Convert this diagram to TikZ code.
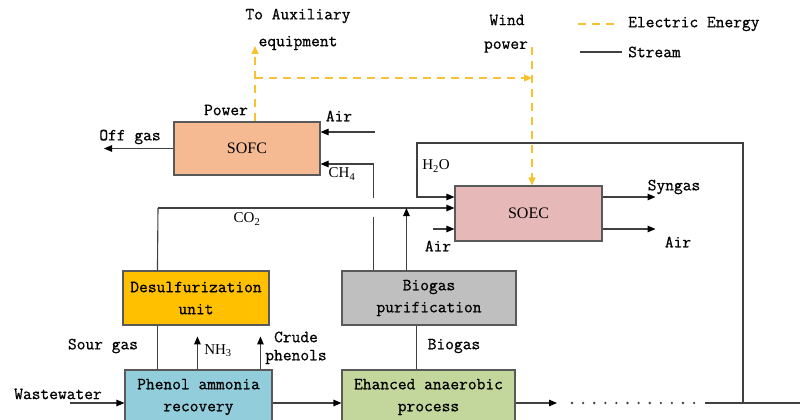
\documentclass[tikz,border=0pt]{standalone}
\usepackage{fontspec}
\newfontfamily\tnr{Liberation Serif}
\newfontfamily\mono{Latin Modern Mono}[FakeBold=0.8]
\usetikzlibrary{arrows.meta}
\definecolor{sofcc}{HTML}{F6BA92}
\definecolor{soecc}{HTML}{E6B8B7}
\definecolor{desc}{HTML}{FFC000}
\definecolor{bpc}{HTML}{BFBFBF}
\definecolor{phc}{HTML}{92CDDC}
\definecolor{grc}{HTML}{C3D69B}
\definecolor{elecc}{HTML}{F7C232}
\definecolor{linec}{HTML}{404040}
\definecolor{boxline}{HTML}{595959}
\begin{document}
\begin{tikzpicture}[x=1pt,y=-1pt,
  box/.style={draw=boxline, line width=1.1pt, inner sep=0pt, align=center, font=\mono\fontsize{17}{22}\selectfont},
  lbl/.style={inner sep=0pt, align=center, font=\mono\fontsize{17}{21}\selectfont},
  slbl/.style={inner sep=0pt, font=\tnr\fontsize{15}{18}\selectfont},
  ln/.style={draw=linec, line width=1.1pt},
  arr/.style={ln, -{Triangle[length=8pt,width=6.5pt,color=black]}},
  elec/.style={draw=elecc, line width=1.3pt, dash pattern=on 8pt off 6pt},
  earr/.style={elec, -{Triangle[length=8pt,width=7pt,color=elecc]}},
]
\useasboundingbox (0,0) rectangle (800,420);
\clip (0,0) rectangle (800,420);

% boxes
\node[box, fill=sofcc, minimum width=146pt, minimum height=53pt] (sofc) at (247,148.5) {\tnr\fontsize{16}{18}\selectfont SOFC};
\node[box, fill=soecc, minimum width=147pt, minimum height=55pt] (soec) at (528.5,213.5) {\tnr\fontsize{16}{18}\selectfont SOEC};
\node[box, fill=desc, minimum width=146pt, minimum height=54pt] (desulf) at (196,298) {Desulfurization\\unit};
\node[box, fill=bpc, minimum width=174pt, minimum height=54pt] (bpur) at (429,298) {Biogas\\purification};
\node[box, fill=phc, minimum width=147pt, minimum height=54pt] (phenol) at (198.5,397) {Phenol ammonia\\recovery};
\node[box, fill=grc, minimum width=173pt, minimum height=54pt] (green) at (428.5,397) {Ehanced anaerobic\\process};

% coordinates
\coordinate (offgasEnd) at (104,148.5);
\coordinate (airS) at (375,132);
\coordinate (ch4Bot) at ([xshift=32pt]bpur.north west);
\coordinate (ch4In) at ([yshift=-15.5pt]sofc.east);
\coordinate (co2c) at (158,208);
\coordinate (co2Bot) at ([xshift=35pt]desulf.north west);
\coordinate (bgTop) at ([xshift=65pt]bpur.north west);
\coordinate (airE) at (433,229);
\coordinate (h2oIn) at ([yshift=16.5pt]soec.west);
\coordinate (loopBot) at (743,403);
\coordinate (dotsStart) at (557,403);
\coordinate (lineR) at (705,403);
\coordinate (rEdge) at (800,403);
\coordinate (ww) at (70,403);
\coordinate (pw) at ([xshift=8pt]sofc.north);
\coordinate (aux) at (255,46);
\coordinate (jn) at (255,78);
\coordinate (wp) at (532,47);
\coordinate (nh3) at ([xshift=73pt]phenol.north west);
\coordinate (crude) at ([xshift=136pt]phenol.north west);

% SOFC streams
\draw[arr] (sofc.west) -- (offgasEnd);
\draw[arr] (airS) -- (airS -| sofc.east);
\draw[arr] (ch4Bot) |- (ch4In);
\fill[white] (369,198) rectangle (379,217);

% CO2 and biogas
\draw[ln] (co2Bot) -- (co2c);
\draw[arr] (co2c) -- (co2c -| soec.west);
\draw[arr] (bgTop) -- (bgTop |- co2c);
\draw[ln] ([xshift=33pt]phenol.north west) -- ([xshift=35pt]desulf.south west);
\draw[ln] ([xshift=75pt]green.north west) -- ([xshift=75pt]bpur.south west);

% SOEC streams
\draw[arr] (airE) -- (airE -| soec.west);
\draw[arr] (loopBot) |- (417,143) |- (h2oIn);
\draw[arr] ([yshift=16.5pt]soec.east) -- ++(53,0);
\draw[arr] ([yshift=-15.5pt]soec.east) -- ++(53,0);

% bottom line
\draw[arr] (ww) -- (ww -| phenol.west);
\draw[arr] (ww -| phenol.east) -- (ww -| green.west);
\draw[arr] (ww -| green.east) -- (dotsStart);
\foreach \i in {0,...,11} \fill[linec] (572+\i*11.1,403) circle (1.3pt);
\draw[ln] (lineR) -- (rEdge);
\draw[arr] (nh3) -- ++(0,-33);
\draw[arr] (crude) -- ++(0,-33);

% electric energy
\draw[earr] (pw) -- (aux);
\draw[earr] (jn) -- (jn -| wp);
\draw[earr] (wp) -- (wp |- soec.north);

% legend
\draw[elec] (578,24) -- (620,24);
\draw[ln] (580,52) -- (622,52);
\node[lbl, anchor=west] (lgE) at (628,24) {Electric Energy};
\node[lbl, anchor=west] (lgS) at (628,52) {Stream};

% labels
\node[lbl] (tAux1) at (298,16) {To Auxiliary};
\node[lbl] (tAux2) at (298,43) {equipment};
\node[lbl] (tPow) at (226,110) {Power};
\node[lbl] (tAirS) at (339,116) {Air};
\node[lbl] (tOff) at (130,137) {Off gas};
\node[slbl] (tCH4) at (342,174) {CH\textsubscript{4}};
\node[lbl] (tWind) at (507,20) {Wind};
\node[lbl] (tWp) at (506,47) {power};
\node[slbl] (tH2O) at (436,166) {H\textsubscript{2}O};
\node[lbl] (tSyn) at (674,187) {Syngas};
\node[lbl] (tAirR) at (678,242) {Air};
\node[lbl] (tAirL) at (438,246) {Air};
\node[slbl] (tCO2) at (247,219) {CO\textsubscript{2}};
\node[lbl] (tSour) at (103,346) {Sour gas};
\node[slbl] (tNH3) at (218,351) {NH\textsubscript{3}};
\node[lbl] (tCrude) at (296,337) {Crude};
\node[lbl] (tPhen) at (296,357) {phenols};
\node[lbl] (tWW) at (58,394) {Wastewater};
\node[lbl] (tBio) at (454,346) {Biogas};
\end{tikzpicture}
\end{document}
